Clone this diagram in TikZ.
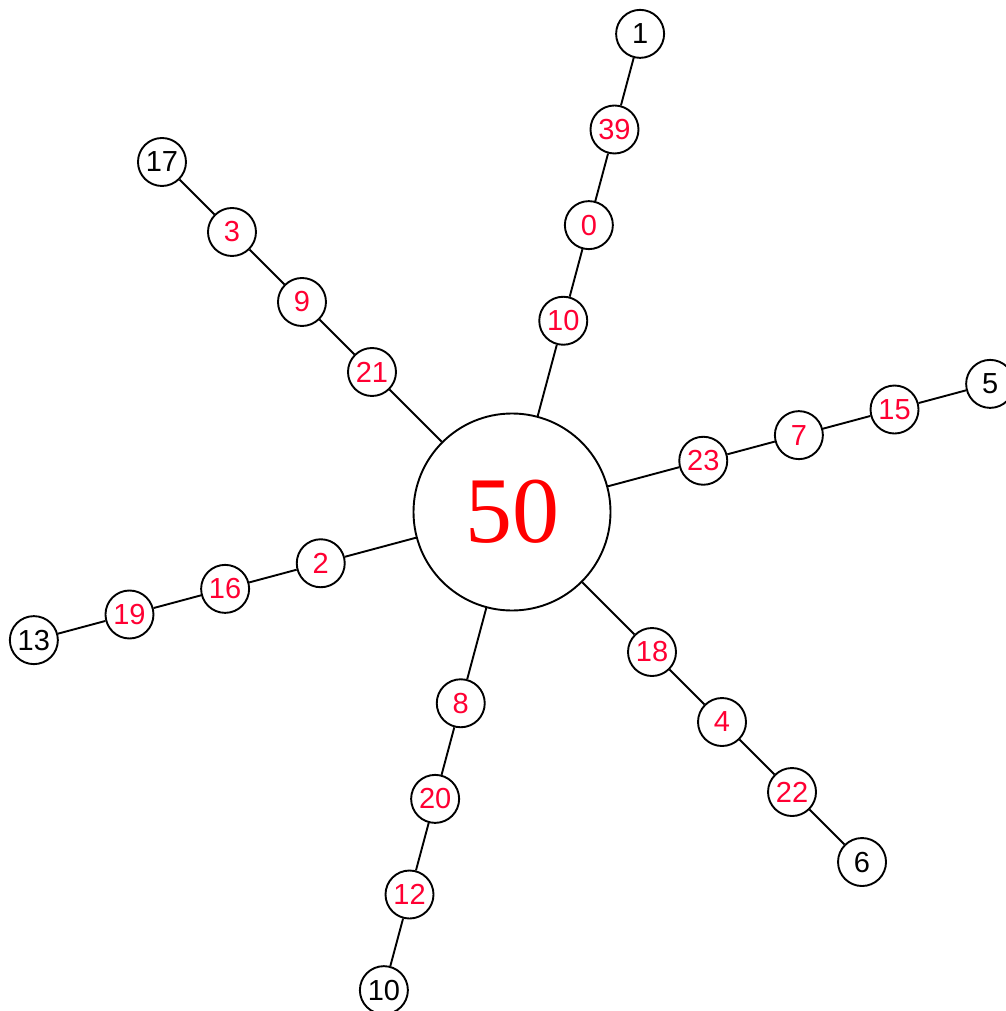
\documentclass[tikz,border=0pt]{standalone}
\usepackage{fontspec}
\setmainfont{Liberation Sans}
\newfontfamily\bigserif{Liberation Serif}
\definecolor{lab}{RGB}{255,0,51}
\begin{document}
\begin{tikzpicture}[x=1pt,y=1pt,
  sn/.style={circle,draw,line width=1.9pt,minimum size=48pt,inner sep=0pt,fill=white,font=\fontsize{29}{29}\selectfont},
  rn/.style={sn,text=lab},
  kn/.style={sn,text=black},
  hub/.style={circle,draw,line width=1.9pt,minimum size=197pt,inner sep=0pt,fill=white,text=red,font=\bigserif\fontsize{94}{94}\selectfont},
  edge/.style={line width=1.9pt,black}]
\useasboundingbox (0,-1011) rectangle (1005,0);
\coordinate (c) at (512,-512);
\node[hub] (n50) at (c) {50};
\foreach \ang/\a/\b/\cc/\d/\id in {75/10/0/39/1/A, 15/23/7/15/5/B, -45/18/4/22/6/C, -105/8/20/12/10/D, -165/2/16/19/13/E, 135/21/9/3/17/F}{
  \node[rn] (\id1) at ([shift={(\ang:198)}]c) {\a};
  \node[rn] (\id2) at ([shift={(\ang:297)}]c) {\b};
  \node[rn] (\id3) at ([shift={(\ang:396)}]c) {\cc};
  \node[kn] (\id4) at ([shift={(\ang:495)}]c) {\d};
  \draw[edge] (n50) -- (\id1) -- (\id2) -- (\id3) -- (\id4);
}
\end{tikzpicture}
\end{document}
